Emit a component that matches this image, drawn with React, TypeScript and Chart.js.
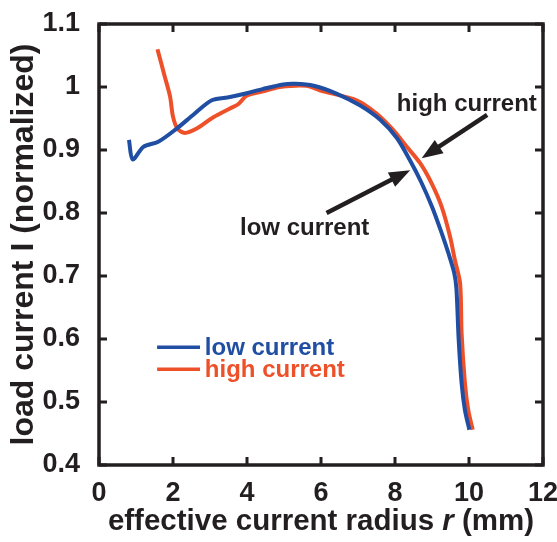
import React, { useEffect, useRef } from 'react';
import { Chart, registerables } from 'chart.js';

Chart.register(...registerables);

// ---- data ----
const lowX = [0.81, 0.91, 1.2, 1.6, 2.1, 2.55, 3.05, 3.54, 3.99, 4.44, 4.98, 5.3, 5.8, 6.4, 7.05, 7.6, 8.05, 8.4, 8.7, 9.0, 9.25, 9.45, 9.6, 9.66, 9.72, 9.8, 9.89, 10.01];
const lowY = [0.916, 0.885, 0.905, 0.913, 0.934, 0.956, 0.979, 0.984, 0.99, 0.997, 1.004, 1.005, 1.002, 0.99, 0.971, 0.948, 0.919, 0.884, 0.85, 0.81, 0.77, 0.735, 0.705, 0.68, 0.6, 0.53, 0.487, 0.456];
const highX = [1.58, 1.78, 1.92, 2.0, 2.12, 2.32, 2.64, 3.09, 3.54, 3.77, 3.99, 4.44, 4.89, 5.6, 6.06, 6.96, 7.5, 7.95, 8.32, 8.68, 8.99, 9.26, 9.49, 9.62, 9.76, 9.8, 9.89, 9.98, 10.1];
const highY = [1.06, 1.016, 0.985, 0.953, 0.934, 0.927, 0.934, 0.952, 0.966, 0.973, 0.986, 0.993, 1.0, 1.002, 0.993, 0.979, 0.958, 0.932, 0.905, 0.879, 0.847, 0.81, 0.762, 0.725, 0.688, 0.609, 0.53, 0.487, 0.456];

const seriesLabels = ['low current', 'high current'];
const xTickValues = [0, 2, 4, 6, 8, 10, 12];
const yTickValues = [0.4, 0.5, 0.6, 0.7, 0.8, 0.9, 1.0, 1.1];
const xTitleParts = ['effective current radius ', 'r', ' (mm)'];
const yTitle = 'load current I (normalized)';

// ---- styles / placement ----
const BLUE = '#1f4ea2';
const RED = '#ee5129';
const INK = '#231f20';
const FONT = '"Liberation Sans", Arial, Helvetica, sans-serif';

const annotations = [
  { text: 'high current', x: 8.05, y: 0.962, tail: [10.49, 0.9556], tip: [8.72, 0.887] },
  { text: 'low current', x: 3.81, y: 0.765, tail: [6.15, 0.8], tip: [8.41, 0.868] },
];
const legendPlace = { x0: 1.57, x1: 2.73, tx: 2.86, lineY: [0.587, 0.552], textY: [0.575, 0.54] };

function drawArrow(ctx: CanvasRenderingContext2D, x0: number, y0: number, x1: number, y1: number) {
  const ang = Math.atan2(y1 - y0, x1 - x0);
  const headLen = 21;
  const headHalf = 8;
  const bx = x1 - headLen * Math.cos(ang);
  const by = y1 - headLen * Math.sin(ang);
  ctx.save();
  ctx.strokeStyle = INK;
  ctx.fillStyle = INK;
  ctx.lineWidth = 4.5;
  ctx.lineCap = 'butt';
  ctx.beginPath();
  ctx.moveTo(x0, y0);
  ctx.lineTo(bx + 2 * Math.cos(ang), by + 2 * Math.sin(ang));
  ctx.stroke();
  ctx.beginPath();
  ctx.moveTo(x1, y1);
  ctx.lineTo(bx + headHalf * Math.sin(ang), by - headHalf * Math.cos(ang));
  ctx.lineTo(bx - headHalf * Math.sin(ang), by + headHalf * Math.cos(ang));
  ctx.closePath();
  ctx.fill();
  ctx.restore();
}

const decorPlugin = {
  id: 'decor',
  afterDatasetsDraw(chart: any) {
    const ctx: CanvasRenderingContext2D = chart.ctx;
    const { left, right, top, bottom } = chart.chartArea;
    const xs = chart.scales.x;
    const ys = chart.scales.y;
    ctx.save();
    // box
    ctx.strokeStyle = INK;
    ctx.lineWidth = 3.5;
    ctx.lineJoin = 'miter';
    ctx.strokeRect(left, top, right - left, bottom - top);
    // inward ticks
    ctx.lineWidth = 3;
    const tl = 8;
    ctx.beginPath();
    xTickValues.forEach((v) => {
      const px = xs.getPixelForValue(v);
      ctx.moveTo(px, bottom);
      ctx.lineTo(px, bottom - tl);
      ctx.moveTo(px, top);
      ctx.lineTo(px, top + tl);
    });
    yTickValues.forEach((v) => {
      const py = ys.getPixelForValue(v);
      ctx.moveTo(left, py);
      ctx.lineTo(left + tl, py);
      ctx.moveTo(right, py);
      ctx.lineTo(right - tl, py);
    });
    ctx.stroke();

    // annotations
    ctx.font = `bold 24px ${FONT}`;
    ctx.fillStyle = INK;
    ctx.textAlign = 'left';
    ctx.textBaseline = 'alphabetic';
    annotations.forEach((a) => {
      ctx.fillText(a.text, xs.getPixelForValue(a.x), ys.getPixelForValue(a.y));
      drawArrow(
        ctx,
        xs.getPixelForValue(a.tail[0]),
        ys.getPixelForValue(a.tail[1]),
        xs.getPixelForValue(a.tip[0]),
        ys.getPixelForValue(a.tip[1])
      );
    });

    // legend
    const colors = [BLUE, RED];
    seriesLabels.forEach((lab, i) => {
      const ly = ys.getPixelForValue(legendPlace.lineY[i]);
      ctx.strokeStyle = colors[i];
      ctx.lineWidth = 3.5;
      ctx.beginPath();
      ctx.moveTo(xs.getPixelForValue(legendPlace.x0), ly);
      ctx.lineTo(xs.getPixelForValue(legendPlace.x1), ly);
      ctx.stroke();
      ctx.fillStyle = colors[i];
      ctx.font = `bold 24px ${FONT}`;
      ctx.fillText(lab, xs.getPixelForValue(legendPlace.tx), ys.getPixelForValue(legendPlace.textY[i]));
    });

    // x-axis title with italic r
    const fonts = [`bold 29.5px ${FONT}`, `italic bold 29.5px ${FONT}`, `bold 29.5px ${FONT}`];
    let total = 0;
    const widths = xTitleParts.map((t, i) => {
      ctx.font = fonts[i];
      const w = ctx.measureText(t).width;
      total += w;
      return w;
    });
    let cx = (left + right) / 2 - total / 2;
    const baseY = bottom + 65;
    ctx.fillStyle = INK;
    xTitleParts.forEach((t, i) => {
      ctx.font = fonts[i];
      ctx.fillText(t, cx, baseY);
      cx += widths[i];
    });
    ctx.restore();
  },
};

export default function App() {
  const ref = useRef<HTMLCanvasElement | null>(null);
  useEffect(() => {
    if (!ref.current) return;
    const chart = new Chart(ref.current, {
      type: 'line',
      data: {
        datasets: [
          {
            label: seriesLabels[0],
            data: lowX.map((x, i) => ({ x, y: lowY[i] })),
            borderColor: BLUE,
            borderWidth: 4,
            pointRadius: 0,
            tension: 0.3,
            fill: false,
          },
          {
            label: seriesLabels[1],
            data: highX.map((x, i) => ({ x, y: highY[i] })),
            borderColor: RED,
            borderWidth: 4,
            pointRadius: 0,
            tension: 0.3,
            fill: false,
          },
        ],
      },
      options: {
        animation: false,
        responsive: false,
        events: [],
        layout: { padding: { top: 24, right: 14, left: 0, bottom: 0 } },
        plugins: { legend: { display: false }, tooltip: { enabled: false } },
        scales: {
          x: {
            type: 'linear',
            min: 0,
            max: 12,
            grid: { display: false },
            border: { display: false },
            ticks: {
              stepSize: 2,
              padding: 4,
              color: INK,
              font: { family: FONT, size: 27, weight: 'bold' },
              maxRotation: 0,
            },
            afterFit: (s: any) => {
              s.height = 77;
              s.paddingLeft = 0;
              s.paddingRight = 0;
            },
          },
          y: {
            type: 'linear',
            min: 0.4,
            max: 1.1,
            grid: { display: false },
            border: { display: false },
            ticks: {
              stepSize: 0.1,
              padding: 11,
              color: INK,
              font: { family: FONT, size: 27, weight: 'bold' },
              callback: (v: any) => String(Number(Number(v).toFixed(1))),
            },
            title: {
              display: true,
              text: yTitle,
              color: INK,
              font: { family: FONT, size: 32, weight: 'bold', lineHeight: 1.2 },
              padding: { top: 5, bottom: 0 },
            },
            afterFit: (s: any) => {
              s.width = 99;
              s.paddingTop = 0;
              s.paddingBottom = 0;
            },
          },
        },
      },
      plugins: [decorPlugin],
    });
    return () => chart.destroy();
  }, []);
  return (
    <div style={{ position: 'fixed', left: 0, top: 0, width: 557, height: 542, background: '#fff' }}>
      <canvas ref={ref} width={557} height={542} style={{ width: 557, height: 542, display: 'block' }} />
    </div>
  );
}
